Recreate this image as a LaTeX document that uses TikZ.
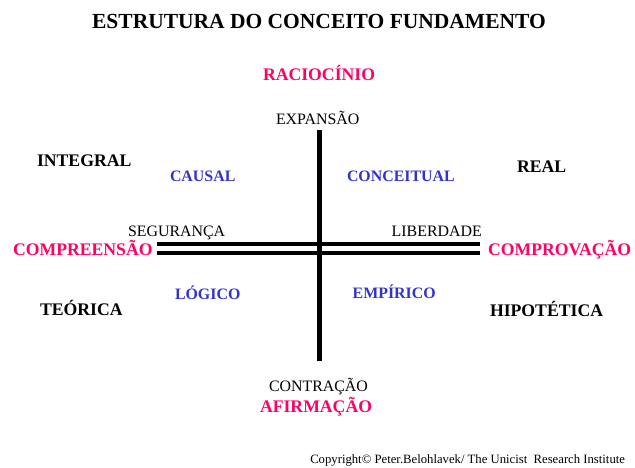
\documentclass[tikz,border=0pt]{standalone}
\usepackage{fontspec}
\setmainfont{Liberation Serif}
\definecolor{pinkred}{RGB}{255,0,102}
\definecolor{bluevio}{RGB}{51,51,204}
\begin{document}
\begin{tikzpicture}[x=1pt,y=-1pt,
  every node/.style={inner sep=0pt,outer sep=0pt},
  ttl/.style={anchor=base,font=\fontsize{21.5}{22}\selectfont\bfseries},
  pole/.style={anchor=base west,text=pinkred,font=\fontsize{17.7}{18}\selectfont\bfseries},
  corner/.style={anchor=base west,font=\fontsize{17.7}{18}\selectfont\bfseries},
  quad/.style={anchor=base west,text=bluevio,font=\fontsize{15.9}{16}\selectfont\bfseries},
  axis/.style={anchor=base west,font=\fontsize{15.9}{16}\selectfont},
  bar/.style={line width=5pt},
  hbar/.style={line width=4pt}]
\useasboundingbox (0,0) rectangle (635,467);
\node[ttl] (title) at (319,28) {ESTRUTURA DO CONCEITO FUNDAMENTO};
\node[pole] (rac) at (263,80) {RACIOCÍNIO};
\node[axis] (exp) at (276,124) {EXPANSÃO};
\node[corner] (int) at (37,166.7) {INTEGRAL};
\node[quad] (cau) at (170,181.7) {CAUSAL};
\node[quad] (con) at (347,181.7) {CONCEITUAL};
\node[corner] (real) at (517,172.7) {REAL};
\node[axis] (seg) at (128,236.5) {SEGURANÇA};
\node[axis] (lib) at (391.7,236.5) {LIBERDADE};
\node[pole] (comp) at (13,255) {COMPREENSÃO};
\node[pole] (cprov) at (488,255) {COMPROVAÇÃO};
\node[quad] (log) at (175,299) {LÓGICO};
\node[quad] (emp) at (352.7,298) {EMPÍRICO};
\node[corner] (teo) at (40,315.7) {TEÓRICA};
\node[corner] (hip) at (490,316) {HIPOTÉTICA};
\node[axis] (contr) at (269,391.7) {CONTRAÇÃO};
\node[pole] (afi) at (260,412) {AFIRMAÇÃO};
\node[anchor=base east,font=\fontsize{12.7}{13}\selectfont] (copy) at (625,463.5) {Copyright© Peter.Belohlavek/ The Unicist\ \ Research Institute};
\coordinate (vt) at (319,130);
\coordinate (vb) at (319,360.5);
\coordinate (h1l) at (156.7,243.7);
\coordinate (h1r) at (480,243.7);
\coordinate (h2l) at (156.7,253);
\coordinate (h2r) at (480,253);
\draw[bar] (vt) -- (vb);
\draw[hbar] (h1l) -- (h1r);
\draw[hbar] (h2l) -- (h2r);
\end{tikzpicture}
\end{document}
